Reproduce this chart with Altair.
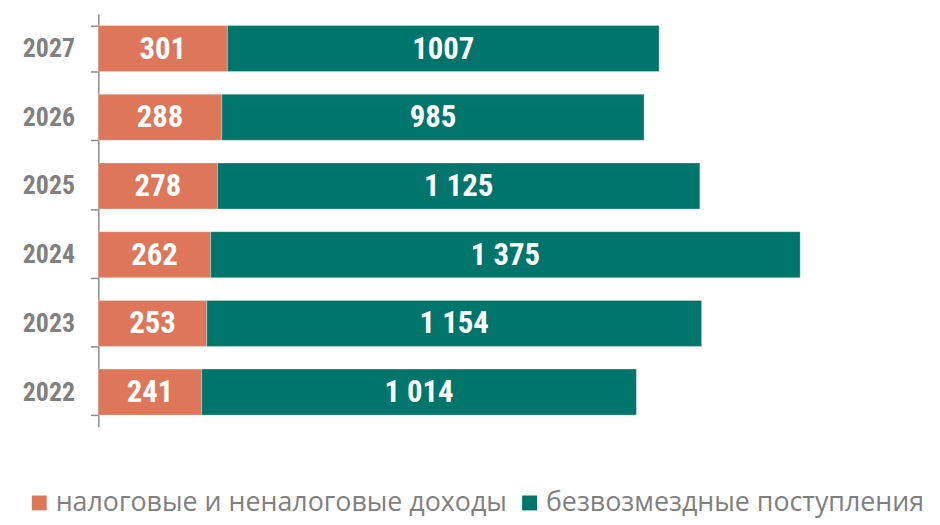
import altair as alt
import pandas as pd

years = ["2022", "2023", "2024", "2025", "2026", "2027"]
tax = [241, 253, 262, 278, 288, 301]
grants = [1014, 1154, 1375, 1125, 985, 1007]
tax_labels = ["241", "253", "262", "278", "288", "301"]
grant_labels = ["1 014", "1 154", "1 375", "1 125", "985", "1007"]
series = ["налоговые и неналоговые доходы", "безвозмездные поступления"]
colors = ["#DE765A", "#00756B"]

rows = []
for i, y in enumerate(years):
    rows.append({"year": y, "series": series[0], "value": tax[i], "label": tax_labels[i], "ord": 0})
    rows.append({"year": y, "series": series[1], "value": grants[i], "label": grant_labels[i], "ord": 1})
df = pd.DataFrame(rows)

COND = "Roboto Condensed"

base = alt.Chart(df).transform_stack(
    stack="value", groupby=["year"], as_=["x0", "x1"], sort=[alt.SortField("ord")]
).transform_calculate(mid="(datum.x0 + datum.x1) / 2")

yenc = alt.Y(
    "year:N",
    sort=years[::-1],
    title=None,
    scale=alt.Scale(paddingInner=0.33, paddingOuter=0.17),
    axis=alt.Axis(
        tickBand="extent",
        tickSize=8,
        tickColor="#8c8c8c",
        domainColor="#8c8c8c",
        domainWidth=1.5,
        tickWidth=1.5,
        labelFont=COND,
        labelFontWeight="bold",
        labelFontSize=26,
        labelColor="#808080",
        labelPadding=16,
    ),
)

xscale = alt.Scale(domain=[0, 1875], nice=False, zero=True)

bars = base.mark_bar(stroke="white", strokeWidth=0.5, strokeOpacity=0.6).encode(
    y=yenc,
    x=alt.X("x0:Q", scale=xscale, axis=None),
    x2="x1:Q",
    color=alt.Color(
        "series:N",
        scale=alt.Scale(domain=series, range=colors),
        legend=alt.Legend(
            title=None,
            orient="none",
            legendX=-73,
            legendY=479,
            direction="horizontal",
            symbolType="square",
            symbolSize=225,
            symbolStrokeWidth=0,
            labelFont="Open Sans",
            labelFontSize=27,
            labelColor="#7f7f7f",
            labelOffset=3,
            columnPadding=9,
            labelLimit=600,
        ),
    ),
)

texts = base.mark_text(
    color="white",
    font=COND,
    fontWeight="bold",
    fontSize=31,
    baseline="middle",
    align="center",
    dy=1,
).encode(
    y=alt.Y("year:N", sort=years[::-1]),
    x=alt.X("mid:Q", scale=xscale),
    text="label:N",
)

chart = alt.layer(bars, texts).properties(
    width=810,
    height=416,
    autosize=alt.AutoSizeParams(type="none"),
    padding={"left": 91, "top": 4, "right": 30, "bottom": 96},
).configure_view(stroke=None)

chart.save("out.html", embed_options={"renderer": "svg", "actions": False})
